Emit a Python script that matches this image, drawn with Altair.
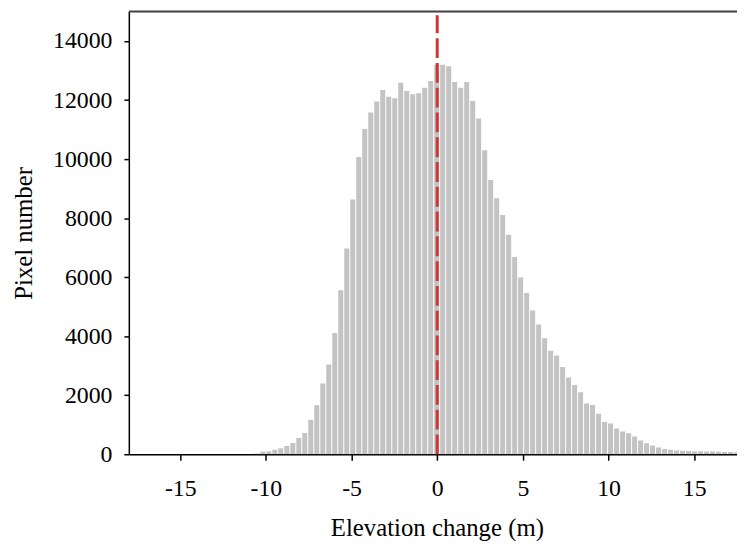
import altair as alt
import pandas as pd

# Histogram of elevation change (bin width ~0.35 m, bins centred on multiples of 0.35)
bin_width = 0.35
bin_index = list(range(-30, 51))
pixel_counts = [
    30, 90, 100, 150, 200, 280, 380, 550, 720, 1170,
    1660, 2400, 3040, 4110, 5560, 6970, 8630, 10070, 11020, 11580,
    11950, 12340, 12110, 12060, 12590, 12310, 12200, 12230, 12420, 12650,
    13200, 13200, 13150, 12610, 12420, 12610, 11970, 11380, 10300, 9290,
    8670, 8110, 7440, 6680, 5990, 5460, 4870, 4400, 3930, 3510,
    3350, 2960, 2600, 2350, 2100, 1720, 1670, 1370, 1090, 1045,
    870, 770, 710, 600, 470, 370, 300, 230, 180, 150,
    130, 120, 110, 105, 100, 95, 90, 85, 80, 75, 70,
]
x_ticks = [-15, -10, -5, 0, 5, 10, 15]
y_ticks = [0, 2000, 4000, 6000, 8000, 10000, 12000, 14000]
x_domain = [-18, 17.5]
y_domain = [0, 15000]

df = pd.DataFrame({
    "start": [k * bin_width - bin_width / 2 for k in bin_index],
    "end": [k * bin_width + bin_width / 2 for k in bin_index],
    "count": pixel_counts,
})

FONT = "Liberation Serif"
W, H = 614, 447
LABEL_EXPR = "datum.value < 0 ? '-' + abs(datum.value) : '' + datum.value"

x_scale = alt.Scale(domain=x_domain, nice=False, zero=False)
y_scale = alt.Scale(domain=y_domain, nice=False)

bars = alt.Chart(df).mark_bar(color="#c3c3c3", x2Offset=-1, clip=True).encode(
    x=alt.X("start:Q", scale=x_scale,
            axis=alt.Axis(values=x_ticks, title="Elevation change (m)", grid=False,
                          labelExpr=LABEL_EXPR,
                          domainColor="black", domainWidth=1.5, tickColor="black",
                          tickSize=6, tickWidth=1.5, labelFontSize=24, labelFont=FONT,
                          labelColor="black", labelPadding=17, titleFont=FONT,
                          titleFontSize=25, titleFontWeight="normal", titleColor="black",
                          titlePadding=15, titleX=311, labelFlush=False)),
    x2="end:Q",
    y=alt.Y("count:Q", scale=y_scale,
            axis=alt.Axis(values=y_ticks, title="Pixel number", grid=False,
                          labelExpr=LABEL_EXPR,
                          domainColor="black", domainWidth=1.5, tickColor="black",
                          tickSize=5, tickWidth=1.5, labelFontSize=24, labelFont=FONT,
                          labelColor="black", labelPadding=12, titleFont=FONT,
                          titleFontSize=25, titleFontWeight="normal", titleColor="black",
                          titlePadding=16, labelFlush=False)),
    y2=alt.datum(0),
)

zero_df = pd.DataFrame({"x": [0], "y0": [0], "y1": [14870]})
zero_line = alt.Chart(zero_df).mark_rule(color="#d03434", strokeWidth=3, strokeDash=[20, 5]).encode(
    x=alt.X("x:Q", scale=x_scale),
    y=alt.Y("y0:Q", scale=y_scale),
    y2="y1:Q",
)

top_border = alt.Chart(zero_df).mark_rule(color="#444444", strokeWidth=2).encode(
    x=alt.value(0), x2=alt.value(W), y=alt.value(0)
)

chart = alt.layer(bars, zero_line, top_border).properties(
    width=W, height=H,
    autosize=alt.AutoSizeParams(type="none"),
    padding={"left": 122, "top": 1, "right": 0, "bottom": 85},
).configure_view(stroke=None).configure(background="white")

chart.save("out.html", embed_options={"renderer": "svg", "actions": False})
